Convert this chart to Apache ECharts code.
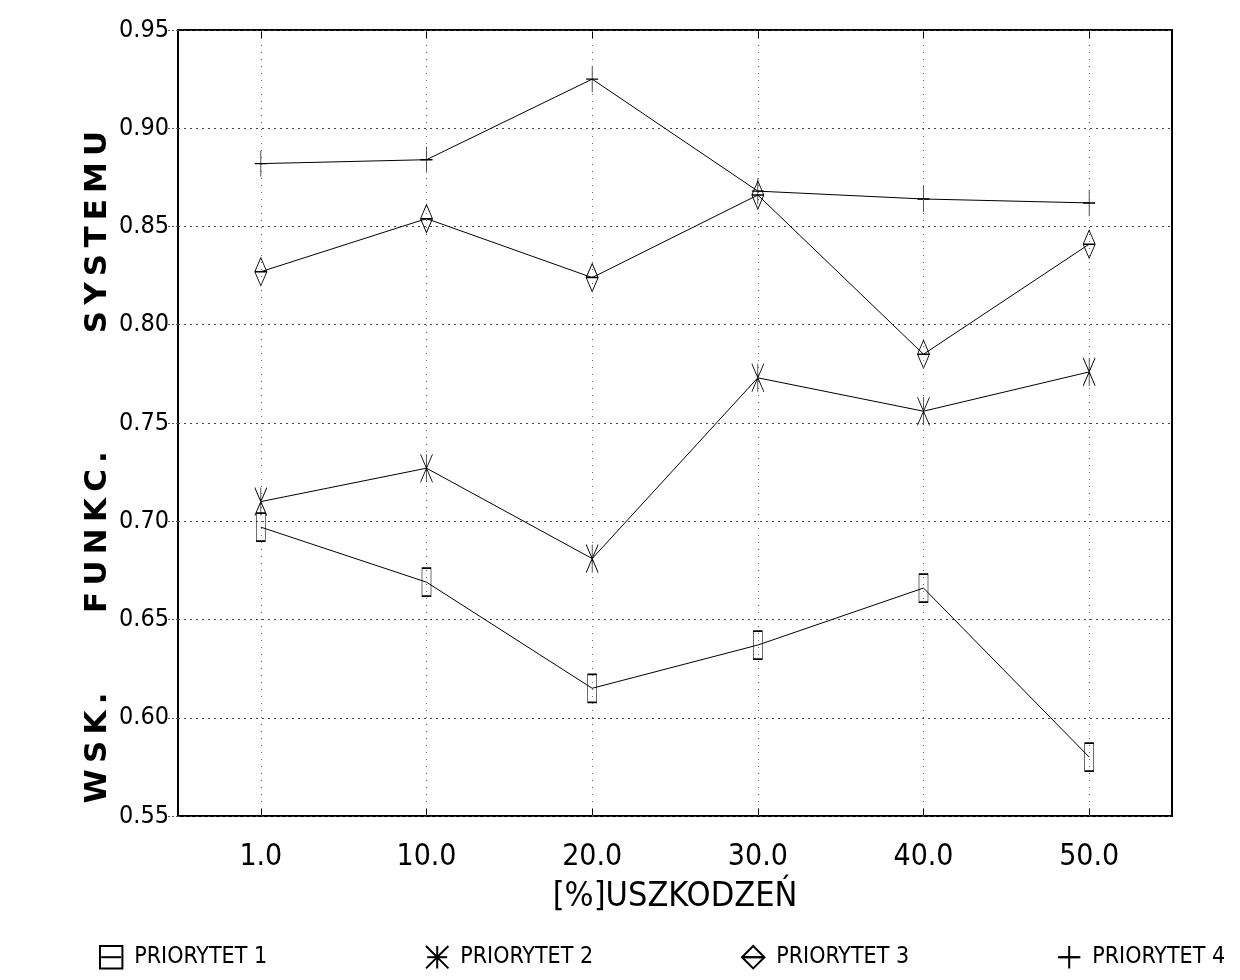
<!DOCTYPE html>
<html>
<head>
<meta charset="utf-8">
<script src="https://cdn.jsdelivr.net/npm/echarts@6/dist/echarts.min.js"></script>
<style>
  html, body { margin: 0; padding: 0; background: #fff; }
  #chart { width: 1240px; height: 980px; }
</style>
</head>
<body>
<div id="chart"></div>
<script>
var categories = ['1.0', '10.0', '20.0', '30.0', '40.0', '50.0'];
var seriesNames = ['PRIORYTET 1', 'PRIORYTET 2', 'PRIORYTET 3', 'PRIORYTET 4'];
var priorytet1 = [0.697, 0.669, 0.615, 0.637, 0.666, 0.580];
var priorytet2 = [0.710, 0.727, 0.681, 0.773, 0.756, 0.776];
var priorytet3 = [0.827, 0.854, 0.824, 0.866, 0.785, 0.841];
var priorytet4 = [0.882, 0.884, 0.925, 0.868, 0.864, 0.862];

var font = '"Liberation Sans Narrow", "DejaVu Sans Condensed", sans-serif';

var symbols = [
    'path://M0,0 L10,0 L10,30 L0,30 Z',
    'path://M0,0 L10,30 M10,0 L0,30 M5,0 L5,30',
    'path://M5,0 L10,15 L5,30 L0,15 Z M0,15 L10,15',
    'path://M5,0 L5,30 M0,15 L10,15'
];
var symbolSizes = [[9, 28], [12, 28], [12, 28], [12, 26]];
var allData = [priorytet1, priorytet2, priorytet3, priorytet4];

var chart = echarts.init(document.getElementById('chart'));

var series = seriesNames.map(function (name, i) {
    var s = {
        name: name,
        type: 'line',
        data: allData[i],
        symbol: symbols[i],
        symbolSize: symbolSizes[i],
        showAllSymbol: true,
        lineStyle: { color: '#000', width: 1 },
        itemStyle: { color: 'transparent', borderColor: '#000', borderWidth: 1 },
        emphasis: { disabled: true },
        animation: false
    };
    if (i === 0) {
        // vertical dotted grid lines through each category
        s.markLine = {
            silent: true,
            symbol: 'none',
            label: { show: false },
            lineStyle: { color: '#666', width: 1, type: [1, 6] },
            data: categories.map(function (c) { return { xAxis: c }; })
        };
    }
    return s;
});

var legendLeft = [94, 420, 736, 1052];
var legends = seriesNames.map(function (name, i) {
    return {
        data: [name],
        left: legendLeft[i],
        top: 940,
        itemWidth: 20,
        itemHeight: 28,
        itemGap: 0,
        selectedMode: false,
        textStyle: { fontFamily: font, fontSize: 23, color: '#000', padding: [0, 0, 0, 8] }
    };
});

var yTitleParts = [
    { text: 'W\u2009S\u2009K\u2009.', y: 748 },
    { text: 'F\u2009U\u2009N\u2009K\u2009C\u2009.', y: 532 },
    { text: 'S\u2009Y\u2009S\u2009T\u2009E\u2009M\u2009U', y: 232 }
];

var option = {
    backgroundColor: '#fff',
    animation: false,
    grid: {
        left: 178, right: 68, top: 30, bottom: 164,
        show: true, borderColor: '#000', borderWidth: 2
    },
    legend: legends,
    graphic: yTitleParts.map(function (p) {
        return {
            type: 'text',
            x: 98,
            y: p.y,
            rotation: Math.PI / 2,
            style: {
                text: p.text,
                fontFamily: '"DejaVu Sans", sans-serif',
                fontWeight: 'bold',
                fontSize: 31,
                fill: '#000',
                align: 'center',
                verticalAlign: 'middle'
            }
        };
    }),
    xAxis: [{
        type: 'category',
        data: categories,
        position: 'bottom',
        axisLine: { show: false },
        axisTick: { show: true, alignWithLabel: true, inside: true, length: 8, lineStyle: { color: '#000' } },
        axisLabel: { fontFamily: font, fontSize: 30, color: '#000', margin: 26 },
        splitLine: { show: false },
        name: '[%]USZKODZEŃ',
        nameLocation: 'middle',
        nameGap: 64,
        nameTextStyle: { fontFamily: font, fontSize: 34, color: '#000' }
    }, {
        type: 'category',
        data: categories,
        position: 'top',
        axisLine: { show: false },
        axisTick: { show: true, alignWithLabel: true, inside: true, length: 8, lineStyle: { color: '#000' } },
        axisLabel: { show: false },
        splitLine: { show: false }
    }],
    yAxis: {
        type: 'value',
        min: 0.55,
        max: 0.95,
        interval: 0.05,
        axisLine: { show: false },
        axisTick: { show: true, length: 10, lineStyle: { color: '#555', type: [2, 2] } },
        axisLabel: {
            fontFamily: font, fontSize: 25, color: '#000', margin: 9,
            formatter: function (v) { return v.toFixed(2); }
        },
        splitLine: { show: true, lineStyle: { color: '#444', type: [2, 4] } }
    },
    series: series
};

option && chart.setOption(option);

window.addEventListener('resize', function () {
    chart.resize();
});
</script>
</body>
</html>
